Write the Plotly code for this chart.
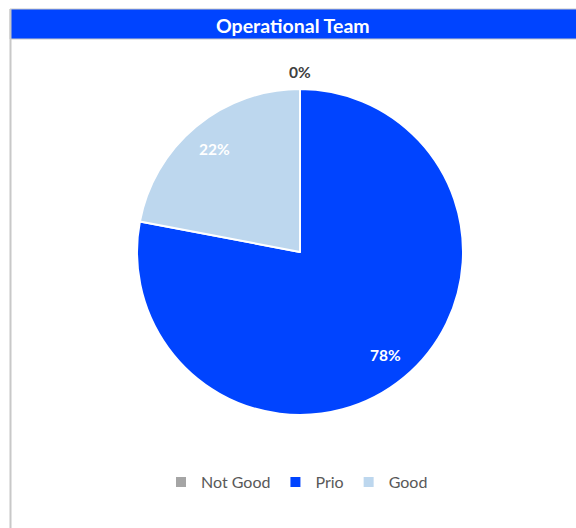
import math
import plotly.graph_objects as go

labels = ["Not Good", "Prio", "Good"]
values = [0, 78, 22]
colors = ["#A5A5A5", "#0044FF", "#BDD7EE"]
text_colors = ["#404040", "#FFFFFF", "#FFFFFF"]
title_text = "Operational Team"

W, H = 576, 528
cx, cy, r = 300, 252, 163

fig = go.Figure(go.Pie(
    labels=labels,
    values=values,
    sort=False,
    direction="clockwise",
    rotation=0,
    marker=dict(colors=colors, line=dict(color="#FFFFFF", width=2)),
    textinfo="none",
    hoverinfo="label+percent",
    domain=dict(x=[(cx - r) / W, (cx + r) / W], y=[1 - (cy + r) / H, 1 - (cy - r) / H]),
))

# Data labels placed along each slice's bisector (derived from the values)
total = sum(values)
cum = 0.0
for lab, v, tc in zip(labels, values, text_colors):
    frac = v / total
    mid = (cum + frac / 2) * 2 * math.pi
    cum += frac
    k = 1.105 if frac == 0 else 0.82
    px = cx + k * r * math.sin(mid)
    py = cy - k * r * math.cos(mid)
    fig.add_annotation(text="<b>%d%%</b>" % round(frac * 100), xref="paper", yref="paper",
                       x=px / W, y=1 - py / H, xanchor="center", yanchor="middle",
                       showarrow=False, font=dict(family="Lato", size=15.5, color=tc))

# Title bar and frame
fig.add_shape(type="rect", xref="paper", yref="paper",
              x0=10 / W, x1=1.01, y0=1 - 39 / H, y1=1 - 9 / H,
              fillcolor="#0044FF", line=dict(color="#C8C8C8", width=1), layer="below")
fig.add_shape(type="line", xref="paper", yref="paper",
              x0=10.5 / W, x1=10.5 / W, y0=-0.01, y1=1 - 9 / H,
              line=dict(color="#C8C8C8", width=2))
fig.add_annotation(text="<b>" + title_text + "</b>", xref="paper", yref="paper",
                   x=293 / W, y=1 - 25 / H, xanchor="center", yanchor="middle",
                   showarrow=False, font=dict(family="Lato", size=19.5, color="#FFFFFF"))

fig.update_layout(
    width=W, height=H,
    margin=dict(l=0, r=0, t=0, b=0),
    paper_bgcolor="#FFFFFF",
    plot_bgcolor="#FFFFFF",
    showlegend=True,
    legend=dict(orientation="h", x=297 / W, xanchor="center", y=1 - 482 / H, yanchor="middle",
                font=dict(family="Lato", size=16, color="#595959"),
                itemwidth=30, tracegroupgap=0),
)

fig.write_html("out.html")
